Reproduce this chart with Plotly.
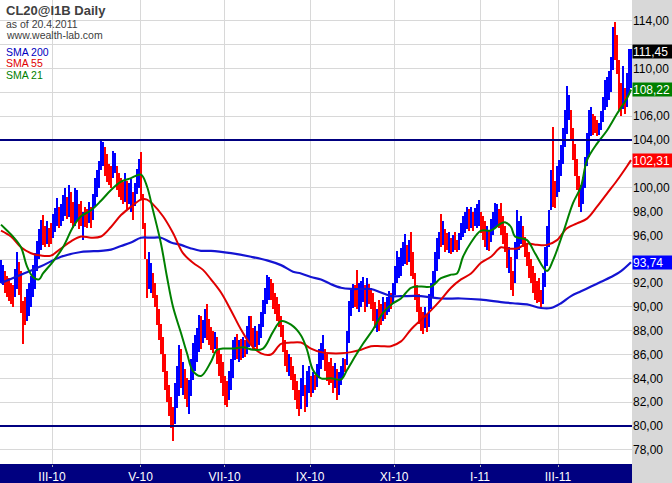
import plotly.graph_objects as go

# ---- daily bars (bar index 0..315, last bar = 20.4.2011) ----
low = [
    92.0, 91.8, 91.2, 90.8, 90.5, 90.2, 90.0, 90.8, 91.5, 91.0,
    89.5, 86.9, 88.5, 88.8, 89.2, 90.0, 90.8, 91.5, 93.0, 94.0,
    94.8, 95.2, 95.0, 95.3, 95.0, 95.3, 95.8, 96.3, 96.8, 96.6,
    96.8, 97.2, 97.6, 97.4, 97.5, 97.0, 96.6, 96.8, 97.2, 96.5,
    96.8, 95.6, 96.7, 96.6, 97.0, 96.6, 97.3, 98.5, 99.2, 100.0,
    101.5, 101.8, 101.0, 100.5, 100.2, 100.0, 100.8, 101.2, 99.8, 99.2,
    99.0, 98.6, 98.8, 98.2, 98.6, 98.0, 97.3, 98.5, 99.5, 100.0,
    99.0, 96.5, 94.0, 90.7, 91.5, 91.2, 90.7, 90.0, 88.5, 87.2,
    86.0, 84.5, 83.0, 82.0, 80.8, 79.8, 78.7, 80.2, 81.5, 82.5,
    83.2, 82.6, 82.3, 81.6, 81.0, 82.5, 83.9, 84.6, 85.4, 86.2,
    86.5, 87.0, 87.4, 87.2, 86.8, 86.4, 86.1, 86.5, 85.2, 84.2,
    83.6, 82.5, 81.8, 81.6, 82.2, 83.0, 84.0, 85.5, 85.6, 85.4,
    85.5, 85.7, 85.8, 86.0, 86.6, 86.8, 86.4, 86.6, 86.4, 86.8,
    87.4, 88.3, 89.4, 90.2, 90.6, 90.6, 89.8, 89.4, 88.8, 88.3,
    87.5, 86.2, 85.0, 84.5, 84.2, 83.9, 83.0, 82.2, 81.4, 80.8,
    81.4, 82.5, 81.2, 81.6, 82.8, 82.4, 82.8, 83.0, 83.3, 84.0,
    84.8, 85.5, 84.6, 83.8, 83.4, 83.6, 82.8, 83.2, 82.2, 82.6,
    83.4, 84.0, 84.5, 85.1, 87.0, 89.2, 89.9, 90.0, 89.8, 89.6,
    90.0, 90.4, 89.6, 90.0, 90.2, 89.8, 88.8, 88.2, 87.9, 88.0,
    88.5, 88.8, 89.0, 89.3, 89.6, 89.8, 90.2, 91.0, 92.0, 92.4,
    92.6, 93.4, 93.6, 93.5, 93.8, 92.6, 92.3, 90.6, 89.6, 88.6,
    88.0, 87.7, 88.2, 87.9, 88.3, 89.8, 90.8, 92.0, 93.0, 94.0,
    95.0, 95.2, 94.6, 94.8, 94.5, 94.4, 94.6, 94.8, 94.6, 94.8,
    95.6, 95.9, 96.2, 96.5, 96.4, 96.6, 96.4, 96.8, 96.6, 96.8,
    96.2, 95.6, 95.0, 94.8, 94.7, 95.4, 96.0, 96.6, 96.8, 96.6,
    96.0, 95.3, 94.6, 93.3, 92.8, 91.4, 90.9, 92.0, 94.0, 94.8,
    95.3, 95.0, 94.2, 93.4, 92.4, 92.0, 91.2, 90.6, 90.3, 90.4,
    89.9, 90.2, 91.7, 93.4, 95.0, 98.1, 98.4, 98.3, 99.2, 99.6,
    101.0, 102.0, 103.4, 104.5, 105.7, 104.0, 102.3, 101.0, 99.8, 98.4,
    98.0, 98.6, 100.0, 101.8, 102.6, 104.3, 104.4, 104.6, 104.3, 104.4,
    104.8, 105.5, 106.5, 106.8, 107.4, 108.0, 109.9, 110.7, 109.5, 106.5,
    106.0, 106.6, 106.2, 106.8, 107.9, 108.4,
]
high = [
    93.9, 93.5, 93.0, 92.6, 92.4, 92.0, 91.8, 93.2, 94.6, 93.8,
    93.0, 90.5, 90.8, 91.5, 92.0, 92.6, 93.5, 94.5, 95.5, 96.5,
    97.3, 97.7, 96.8, 97.2, 96.6, 97.0, 97.8, 98.3, 99.1, 98.4,
    98.6, 99.4, 100.0, 99.2, 100.2, 99.6, 98.8, 100.0, 99.8, 98.6,
    98.9, 98.0, 98.4, 98.2, 98.8, 98.4, 99.5, 100.8, 101.5, 102.2,
    103.9, 103.8, 103.4, 102.8, 102.0, 101.8, 103.1, 102.9, 101.8, 101.2,
    100.8, 100.5, 101.2, 100.6, 100.4, 100.7, 99.6, 100.4, 101.6, 102.4,
    103.0, 99.5, 97.0, 94.0, 94.6, 93.7, 92.8, 92.0, 91.0, 89.8,
    88.6, 87.5, 86.0, 84.6, 83.4, 82.4, 81.6, 83.6, 85.0, 86.8,
    86.5, 85.4, 84.8, 84.0, 83.9, 85.6, 87.0, 87.6, 88.2, 89.3,
    89.2, 88.9, 89.8, 90.2, 89.0, 88.3, 88.0, 87.9, 87.5, 86.5,
    86.0, 85.4, 84.2, 83.8, 84.6, 85.6, 87.2, 87.5, 87.7, 87.2,
    87.3, 87.5, 87.2, 88.4, 89.2, 89.2, 88.2, 88.4, 88.0, 88.6,
    89.6, 90.6, 91.6, 92.7, 92.5, 92.3, 92.0, 91.2, 90.8, 90.2,
    89.2, 88.5, 87.2, 86.4, 86.0, 85.8, 85.0, 84.4, 83.8, 83.0,
    84.0, 85.1, 83.4, 84.6, 85.0, 84.2, 84.5, 84.3, 85.2, 86.5,
    87.0, 87.6, 86.5, 86.0, 85.4, 85.7, 85.0, 85.3, 84.8, 84.5,
    85.0, 85.7, 85.6, 88.0, 90.5, 91.4, 91.9, 91.8, 93.1, 92.0,
    92.2, 92.5, 91.8, 92.4, 91.9, 91.6, 91.2, 90.4, 89.8, 90.6,
    90.2, 90.8, 90.4, 90.8, 91.3, 91.2, 92.0, 93.4, 94.7, 94.2,
    94.9, 95.4, 96.1, 95.2, 95.6, 96.3, 94.6, 92.8, 91.8, 91.1,
    90.0, 89.6, 90.0, 89.4, 91.1, 92.0, 93.0, 94.6, 95.8, 96.3,
    97.8, 97.2, 96.5, 96.2, 96.3, 95.8, 96.0, 96.3, 95.6, 96.2,
    97.0, 97.6, 98.0, 98.4, 98.2, 98.4, 98.0, 98.3, 98.6, 99.0,
    98.0, 97.6, 97.2, 96.8, 96.4, 97.4, 98.0, 98.7, 98.6, 98.2,
    98.7, 97.6, 96.8, 96.2, 95.0, 94.2, 93.0, 95.4, 98.1, 97.2,
    97.6, 96.8, 95.9, 95.3, 94.6, 94.0, 93.4, 92.8, 92.2, 92.4,
    91.4, 92.8, 95.0, 96.8, 98.1, 101.5, 105.1, 100.6, 101.8, 102.3,
    103.6, 105.0, 106.5, 108.5, 107.8, 106.5, 105.0, 103.7, 102.4, 101.0,
    100.2, 100.9, 102.6, 104.6, 106.5, 106.8, 106.2, 106.0, 105.7, 105.4,
    106.4, 107.6, 109.0, 109.3, 109.8, 111.0, 113.5, 113.9, 112.8, 110.7,
    108.8, 110.2, 108.4, 109.6, 111.6, 111.6,
]
# u = up day (blue), d = down day (red), five bars per group
direction_groups = [
    "uuddd", "dduud", "ddduu", "uuuuu", "uddud", "duuud", "uuudu", "dduud",
    "duddu", "duuuu", "uuddd", "duudd", "ddudu", "uduuu", "ddddu", "udddd",
    "ddddd", "dduuu", "duddu", "uuuuu", "duudd", "ddudd", "ddddu", "uuudu",
    "duduu", "ddudu", "uuuuu", "ddddd", "ddddu", "ddddd", "uuduu", "duduu",
    "uuddd", "ddudu", "uuduu", "uuddu", "uudud", "dddud", "duduu", "duuuu",
    "uuudu", "ddddd", "ddudu", "uuuuu", "duddu", "duddu", "uuuud", "uduuu",
    "dddud", "uuuud", "ddddu", "dduuu", "udddd", "ddddd", "duuuu", "udduu",
    "uuuuu", "ddddd", "uuuuu", "udddu", "uuuuu", "uuddd", "duduu", "u",
]
direction = "".join(direction_groups)

# ---- moving averages (bar index, value) ----
sma21_idx = [0, 3, 6, 10, 13, 16, 19, 21, 26, 31, 36, 40, 45, 50, 55, 60, 65, 70, 73, 76,
             80, 83, 86, 90, 93, 96, 100, 105, 108, 111, 116, 121, 126, 131, 136, 140, 145, 150,
             153, 156, 160, 165, 170, 173, 178, 181, 186, 191, 196, 200, 205, 210, 215, 220,
             225, 228, 231, 235, 240, 245, 250, 252, 255, 257, 263, 267, 273, 276, 281, 286,
             290, 293, 298, 303, 308, 313, 315]
sma21_val = [96.9, 96.4, 95.9, 95.0, 93.4, 92.5, 92.3, 92.8, 93.8, 95.0, 96.7, 97.6, 98.1, 98.9,
             99.8, 100.5, 100.8, 101.1, 100.1, 98.1, 95.3, 92.5, 90.0, 87.8, 86.1, 84.6, 84.2,
             85.4, 86.4, 86.5, 86.5, 86.6, 86.4, 86.5, 87.9, 88.8, 88.5, 87.6, 86.4, 84.7, 84.0,
             84.0, 83.9, 84.7, 86.1, 86.9, 88.1, 89.5, 90.3, 90.7, 91.6, 91.7, 91.7, 92.4, 92.7,
             92.8, 94.2, 95.4, 96.4, 96.4, 97.0, 97.1, 96.7, 95.9, 95.6, 94.5, 93.0, 93.9, 96.2,
             98.7, 100.1, 102.3, 103.7, 104.8, 106.2, 107.5, 108.22]
sma55_idx = [0, 5, 10, 15, 20, 25, 30, 35, 40, 45, 50, 55, 60, 65, 70, 73, 76, 81, 86, 91, 96,
             101, 105, 110, 115, 120, 125, 130, 135, 140, 145, 150, 155, 160, 165, 170, 175,
             180, 185, 190, 195, 200, 205, 210, 215, 220, 225, 230, 235, 240, 245, 250, 253,
             258, 263, 268, 273, 278, 283, 288, 293, 298, 303, 308, 313, 315]
sma55_val = [96.4, 95.9, 95.0, 94.5, 94.3, 94.3, 94.9, 95.5, 95.9, 95.8, 95.9, 96.7, 97.7, 98.4,
             99.0, 99.0, 98.6, 97.6, 96.2, 94.5, 93.7, 93.1, 92.3, 91.2, 89.7, 88.1, 86.8, 86.1,
             86.0, 86.9, 87.0, 87.0, 86.5, 86.2, 86.1, 86.1, 86.2, 86.4, 86.7, 86.7, 86.7, 87.1,
             88.1, 88.9, 89.7, 90.6, 91.6, 92.3, 92.8, 93.7, 94.2, 95.0, 94.9, 94.9, 95.3, 95.2,
             95.2, 95.6, 96.6, 97.0, 97.4, 98.4, 99.5, 100.6, 101.8, 102.31]
sma200_idx = [0, 10, 20, 30, 40, 50, 55, 60, 65, 70, 75, 80, 85, 90, 95, 100, 105, 115, 125,
              133, 140, 146, 150, 155, 160, 165, 170, 175, 180, 185, 190, 195, 200, 210, 220,
              230, 240, 250, 256, 263, 270, 275, 280, 285, 290, 295, 300, 305, 310, 315]
sma200_val = [92.0, 92.7, 93.4, 94.2, 94.6, 94.7, 94.8, 95.1, 95.4, 95.8, 95.8, 95.8, 95.4, 95.2,
              94.9, 94.7, 94.7, 94.5, 94.2, 93.9, 93.5, 92.95, 92.8, 92.5, 92.3, 91.9, 91.6, 91.5,
              91.5, 91.5, 91.2, 90.9, 90.9, 90.9, 90.7, 90.7, 90.6, 90.4, 90.3, 90.2, 89.9, 89.9,
              90.3, 90.9, 91.3, 91.7, 92.1, 92.5, 93.0, 93.74]

level_lines = [104.0, 80.0]

month_idx = [25.5, 69.8, 111.8, 154.6, 196.6, 239.5, 278.5]
month_labels = ["III-10", "V-10", "VII-10", "IX-10", "XI-10", "I-11", "III-11"]

y_ticks = [78 + 2 * k for k in range(19)]
covered_ticks = [112, 108, 102, 94]   # hidden behind the last-value boxes
y_labels = ["" if v in covered_ticks else f"{v},00" for v in y_ticks]

last_values = [("111,45", 111.45, "#000000"), ("108,22", 108.22, "#008000"),
               ("102,31", 102.31, "#ff0000"), ("93,74", 93.74, "#0000ff")]

n = len(high)
xs = list(range(n))
colors = ["#0000ff" if direction[i] == "u" else "#ff0000" for i in range(n)]

FONT = "Liberation Sans, Arial"

fig = go.Figure()
fig.add_trace(go.Bar(x=xs, base=low, y=[h - l for h, l in zip(high, low)],
                     marker=dict(color=colors, line=dict(width=0)), width=0.85,
                     showlegend=False, hoverinfo="skip"))
fig.add_trace(go.Scatter(x=sma200_idx, y=sma200_val, mode="lines",
                         line=dict(color="#1414d2", width=2.2, shape="spline"), showlegend=False))
fig.add_trace(go.Scatter(x=sma55_idx, y=sma55_val, mode="lines",
                         line=dict(color="#e00000", width=2, shape="spline"), showlegend=False))
fig.add_trace(go.Scatter(x=sma21_idx, y=sma21_val, mode="lines",
                         line=dict(color="#008000", width=2, shape="spline"), showlegend=False))

for lv in level_lines:
    fig.add_shape(type="line", xref="paper", x0=0, x1=1, yref="y", y0=lv, y1=lv,
                  line=dict(color="#000080", width=2), layer="above")

# bottom axis band
fig.add_shape(type="rect", xref="paper", x0=0, x1=1, yref="paper", y0=-19 / 464, y1=0,
              fillcolor="#000080", line=dict(width=0), layer="below")

for txt, v, c in last_values:
    fig.add_annotation(x=1, xref="paper", y=v, yref="y", xanchor="left", yanchor="middle",
                       text=txt, showarrow=False, bgcolor=c, width=40, height=13, align="left",
                       borderpad=0, font=dict(color="white", size=12, family=FONT))

texts = [
    ("<b>CL20@I1B Daily</b>", 11, 13, "#404040"),
    ("as of 20.4.2011", 24, 10.5, "#404040"),
    ("www.wealth-lab.com", 35, 10.5, "#404040"),
    ("SMA 200", 52, 10.5, "#0000c0"),
    ("SMA 55", 63, 10.5, "#e00000"),
    ("SMA 21", 75, 10.5, "#008000"),
]
for t, ypx, fs, c in texts:
    fig.add_annotation(x=4 / 632, xref="paper", y=1 - ypx / 464, yref="paper", xanchor="left",
                       yanchor="middle", text=t, showarrow=False,
                       font=dict(color=c, size=fs, family=FONT))

fig.update_layout(
    width=672, height=483, autosize=False,
    margin=dict(l=0, r=40, t=0, b=19, pad=0),
    paper_bgcolor="#d8d8d8", plot_bgcolor="white",
    bargap=0, barmode="overlay",
    xaxis=dict(range=[-0.5, n - 0.5], tickvals=month_idx, ticktext=month_labels,
               automargin=False, showgrid=True, gridcolor="#d8d8d8", gridwidth=1,
               zeroline=False, ticks="outside", ticklen=2, tickcolor="#b0b0b0",
               tickfont=dict(color="white", size=12, family=FONT), showline=False),
    yaxis=dict(range=[76.81, 115.75], side="right", tickvals=y_ticks, ticktext=y_labels,
               automargin=False, showgrid=True, gridcolor="#d8d8d8", gridwidth=1,
               zeroline=False, ticks="",
               tickfont=dict(color="black", size=12, family=FONT), showline=False),
)

fig.write_html("out.html", config={"displayModeBar": False, "staticPlot": True},
               post_script="document.body.style.margin='0';document.body.style.overflow='hidden';")
